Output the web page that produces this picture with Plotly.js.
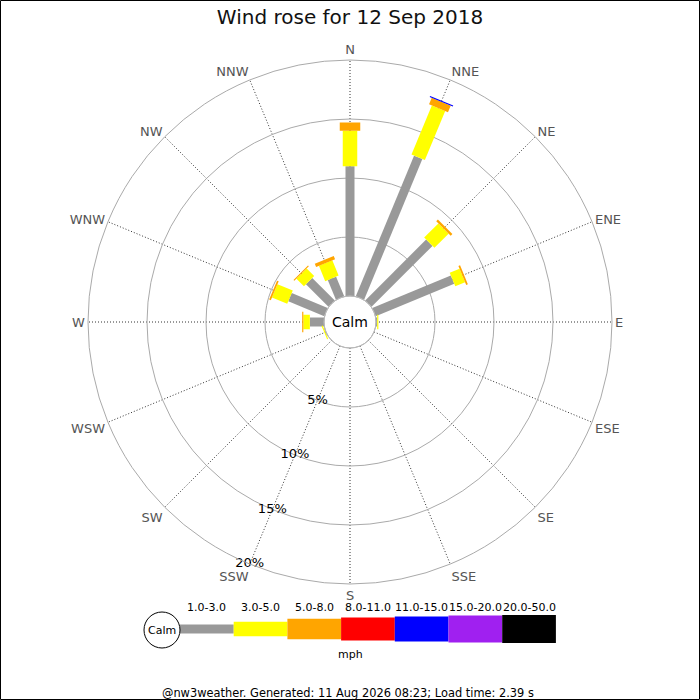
<!DOCTYPE html>
<html>
<head>
<meta charset="utf-8">
<script src="https://cdn.plot.ly/plotly-3.0.1.min.js"></script>
<style>
  html, body { margin: 0; padding: 0; background: #fff; }
  #rose { width: 700px; height: 700px; }
</style>
</head>
<body>
<div id="rose"></div>
<script>
/* compass points, clockwise from north */
const directions = ["N", "NNE", "NE", "ENE", "E", "ESE", "SE", "SSE",
                    "S", "SSW", "SW", "WSW", "W", "WNW", "NW", "NNW"];

/* speed classes (mph) */
const speedBins = ["1.0-3.0", "3.0-5.0", "5.0-8.0", "8.0-11.0",
                   "11.0-15.0", "15.0-20.0", "20.0-50.0"];

/* frequency (%) per direction, one array per speed class */
const pct1to3   = [11.0, 12.9, 7.3, 7.2, 0.1, 0, 0, 0, 0, 0, 0, 0.05, 1.2, 3.3, 2.7, 1.8];
const pct3to5   = [3.0, 4.5, 1.7, 0.9, 0.1, 0, 0, 0, 0, 0, 0, 0.1, 0.55, 1.4, 0.9, 1.4];
const pct5to8   = [0.7, 0.6, 0.2, 0.15, 0, 0, 0, 0, 0, 0, 0, 0, 0.1, 0.15, 0.1, 0.3];
const pct8to11  = [0, 0, 0, 0, 0, 0, 0, 0, 0, 0, 0, 0, 0, 0, 0, 0];
const pct11to15 = [0, 0.1, 0, 0, 0, 0, 0, 0, 0, 0, 0, 0, 0, 0, 0, 0];
const pct15to20 = [0, 0, 0, 0, 0, 0, 0, 0, 0, 0, 0, 0, 0, 0, 0, 0];
const pct20to50 = [0, 0, 0, 0, 0, 0, 0, 0, 0, 0, 0, 0, 0, 0, 0, 0];

/* radial ticks */
const ringVals = [5, 10, 15, 20];
const ringText = ["5%", "10%", "15%", "20%"];

const title = "Wind rose for 12 Sep 2018";
const footer = "@nw3weather. Generated: 11 Aug 2026 08:23; Load time: 2.39 s";

/* styles */
const colours = ["#999999", "#ffff00", "#ffa500", "#ff0000", "#0000ff", "#a020f0", "#000000"];
const bandPx = [9, 14.5, 20.5, 23, 25, 27, 28];
const FONT = "DejaVu Sans, Liberation Sans, sans-serif";

const series = [pct1to3, pct3to5, pct5to8, pct8to11, pct11to15, pct15to20, pct20to50];

/* build stacked segments as thick line pieces */
const traces = [];
const base = directions.map(() => 0);
series.forEach((vals, k) => {
    const r = [], theta = [];
    vals.forEach((v, i) => {
        if (v > 0) {
            r.push(base[i], base[i] + v, null);
            theta.push(directions[i], directions[i], directions[i]);
        }
        base[i] += v;
    });
    traces.push({
        type: "scatterpolar",
        mode: "lines",
        r: r,
        theta: theta,
        line: { color: colours[k], width: bandPx[k] },
        connectgaps: false,
        hoverinfo: "skip",
        name: speedBins[k],
    });
});

/* ring labels along SSW */
traces.push({
    type: "scatterpolar",
    mode: "text",
    r: ringVals,
    theta: ringVals.map(() => "SSW"),
    text: ringText,
    textposition: "middle center",
    textfont: { family: FONT, size: 13, color: "#000" },
    hoverinfo: "skip",
    cliponaxis: false,
});

/* helpers for pixel -> paper */
const W = 700, H = 700;
const px = (x) => x / W;
const py = (y) => 1 - y / H;

const cx = 350, cy = 322, R = 262;

const shapes = [
    { type: "rect", xref: "paper", yref: "paper", x0: px(0.5), x1: px(699.5), y0: py(699.5), y1: py(0.5),
      line: { color: "#000", width: 1 } },
    { type: "circle", xref: "paper", yref: "paper", x0: px(cx - 26), x1: px(cx + 26), y0: py(cy + 26), y1: py(cy - 26),
      line: { color: "#bbbbbb", width: 1 } },
    { type: "circle", xref: "paper", yref: "paper", x0: px(144), x1: px(180), y0: py(648), y1: py(612),
      line: { color: "#000", width: 1 }, fillcolor: "#fff" },
];

function note(text, x, y, size) {
    return {
        text: text, x: px(x), y: py(y), xref: "paper", yref: "paper",
        xanchor: "center", yanchor: "middle", showarrow: false,
        font: { family: FONT, size: size, color: "#000" },
    };
}

const annotations = [
    note("Calm", cx, cy, 14),
    note("Calm", 162, 630, 11),
    note("mph", 350, 654, 11),
    note(footer, 348, 693, 11.4),
];

/* colour key */
const keyX0 = 180, keyStep = 53.7, keyY = 629;
speedBins.forEach((lbl, k) => {
    const x0 = keyX0 + k * keyStep;
    shapes.push({
        type: "rect", xref: "paper", yref: "paper", layer: "below",
        x0: px(x0), x1: px(x0 + keyStep),
        y0: py(keyY + bandPx[k] / 2), y1: py(keyY - bandPx[k] / 2),
        fillcolor: colours[k], line: { width: 0 },
    });
    annotations.push(note(lbl, x0 + keyStep / 2, 607, 11));
});

const layout = {
    width: W,
    height: H,
    margin: { l: 0, r: 0, t: 0, b: 0 },
    paper_bgcolor: "#fff",
    showlegend: false,
    font: { family: FONT },
    title: {
        text: title,
        x: 0.5, xref: "paper",
        y: py(17), yref: "container", yanchor: "middle",
        font: { family: FONT, size: 20, color: "#111" },
    },
    polar: {
        domain: { x: [px(cx - R), px(cx + R)], y: [py(cy + R), py(cy - R)] },
        hole: 26 / R,
        bgcolor: "rgba(0,0,0,0)",
        angularaxis: {
            type: "category",
            categoryarray: directions,
            rotation: 90,
            direction: "clockwise",
            showline: true,
            linecolor: "#aaaaaa",
            linewidth: 1,
            gridcolor: "#333333",
            griddash: "1px,2px",
            gridwidth: 1,
            ticks: "",
            tickfont: { family: FONT, size: 13, color: "#555" },
        },
        radialaxis: {
            range: [0, 20],
            tickvals: ringVals,
            showticklabels: false,
            showline: false,
            ticks: "",
            gridcolor: "#aaaaaa",
            gridwidth: 1,
        },
    },
    shapes: shapes,
    annotations: annotations,
};

Plotly.newPlot("rose", traces, layout, { displayModeBar: false, staticPlot: true });
</script>
</body>
</html>
